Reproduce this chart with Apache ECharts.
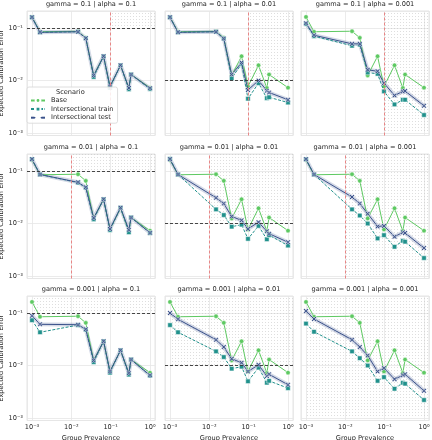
<!DOCTYPE html>
<html><head><meta charset="utf-8">
<script src="https://cdn.jsdelivr.net/npm/echarts@6/dist/echarts.min.js"></script>
<style>html,body{margin:0;padding:0;background:#fff}#c{width:432px;height:440px}</style>
</head><body><div id="c"></div>
<script>
// ---------- data ----------
const prevalence = [0.001, 0.0016, 0.0148, 0.0233, 0.037, 0.066, 0.096, 0.178, 0.29, 0.33, 1.0];
const gammas = [0.1, 0.01, 0.001];   // rows
const alphas = [0.1, 0.01, 0.001];   // columns
const seriesNames = ['Base', 'Intersectional train', 'Intersectional test'];
const tickLabels = {'-3': '10⁻³', '-2': '10⁻²', '-1': '10⁻¹', '0': '10⁰'};

const baseECE = [0.163, 0.085, 0.087, 0.065, 0.0125, 0.029, 0.0077, 0.0195, 0.0072, 0.013, 0.0073];

const testG1A1  = [0.16, 0.083, 0.085, 0.064, 0.0125, 0.029, 0.0077, 0.0195, 0.0072, 0.013, 0.0071];
const trainG1A1 = [0.16, 0.083, 0.085, 0.064, 0.0117, 0.029, 0.0073, 0.0195, 0.0068, 0.013, 0.0069];
const testG1A2  = [0.16, 0.083, 0.085, 0.063, 0.013, 0.022, 0.0066, 0.010, 0.0064, 0.0059, 0.0043];
const trainG1A2 = [0.16, 0.083, 0.085, 0.063, 0.011, 0.021, 0.0045, 0.0089, 0.0046, 0.0048, 0.0038];
const testG1A3  = [0.123, 0.073, 0.05, 0.05, 0.016, 0.015, 0.0089, 0.0052, 0.0062, 0.0063, 0.0033];
const trainG1A3 = [0.12, 0.07, 0.046, 0.048, 0.0142, 0.0134, 0.0062, 0.0035, 0.0043, 0.0043, 0.0022];

const testG2A1  = [0.168, 0.086, 0.061, 0.049, 0.0128, 0.029, 0.0079, 0.02, 0.0076, 0.013, 0.0067];
const trainG2A1 = [0.168, 0.086, 0.06, 0.048, 0.012, 0.029, 0.0075, 0.02, 0.0068, 0.013, 0.0066];
const testG2A2  = [0.168, 0.086, 0.031, 0.024, 0.0136, 0.0115, 0.0079, 0.0106, 0.0071, 0.0064, 0.0044];
const trainG2A2 = [0.17, 0.086, 0.0186, 0.0145, 0.0087, 0.0095, 0.0051, 0.009, 0.005, 0.006, 0.0038];
const testG2A3  = [0.168, 0.086, 0.032, 0.024, 0.0154, 0.0088, 0.009, 0.0056, 0.0068, 0.0066, 0.0034];
const trainG2A3 = [0.168, 0.086, 0.0186, 0.0142, 0.010, 0.0052, 0.006, 0.0036, 0.0047, 0.0045, 0.0022];

const testG3A1  = [0.089, 0.061, 0.06, 0.049, 0.0125, 0.029, 0.0077, 0.0195, 0.0071, 0.013, 0.0065];
const trainG3A1 = [0.073, 0.043, 0.059, 0.048, 0.0116, 0.029, 0.0073, 0.0195, 0.0067, 0.013, 0.0064];
const testG3A2  = [0.10, 0.076, 0.031, 0.0225, 0.0134, 0.0113, 0.0077, 0.0103, 0.0063, 0.0068, 0.0043];
const trainG3A2 = [0.059, 0.043, 0.0186, 0.0145, 0.0087, 0.0095, 0.005, 0.0091, 0.0047, 0.0051, 0.0037];
const testG3A3  = [0.11, 0.077, 0.031, 0.0225, 0.0155, 0.0077, 0.0089, 0.0055, 0.0065, 0.0068, 0.0033];
const trainG3A3 = [0.063, 0.044, 0.0186, 0.0138, 0.010, 0.0051, 0.006, 0.0036, 0.0047, 0.0045, 0.0022];

const testSets  = [[testG1A1, testG1A2, testG1A3], [testG2A1, testG2A2, testG2A3], [testG3A1, testG3A2, testG3A3]];
const trainSets = [[trainG1A1, trainG1A2, trainG1A3], [trainG2A1, trainG2A2, trainG2A3], [trainG3A1, trainG3A2, trainG3A3]];

// ---------- layout / style ----------
const FONT = 'DejaVu Sans';
const TXT = '#262626';
const FS = 6.6;
const colLeft = [27, 165, 301];
const colWidth = 128;
const rowTop = [11, 154, 296];
const rowHeight = 124.5;
const xMin = Math.pow(10, -3.127), xMax = Math.pow(10, 0.127);
const yMin = Math.pow(10, -3.048), yMax = Math.pow(10, -0.675);
const cBase = '#5ec962', cTrain = '#21918c', cTest = '#3b528b';
const xSymbol = 'path://M0,2 L2,0 L5,3 L8,0 L10,2 L7,5 L10,8 L8,10 L5,7 L2,10 L0,8 L3,5 Z';

// hatch pattern (dots)
const pat = document.createElement('canvas');
pat.width = 3; pat.height = 3;
const pctx = pat.getContext('2d');
pctx.fillStyle = 'rgba(190,190,190,0.5)';
pctx.fillRect(1, 1, 1, 1);

function pairs(arr) { return prevalence.map((x, i) => [x, arr[i]]); }
function fmt(v) {
  const e = Math.log10(v);
  const r = Math.round(e);
  if (Math.abs(e - r) > 0.01) return '';
  return tickLabels[String(r)] || '';
}

const grids = [], xAxes = [], yAxes = [], series = [], titles = [];
let gi = 0;
for (let r = 0; r < 3; r++) {
  for (let c = 0; c < 3; c++) {
    const gamma = gammas[r], alpha = alphas[c];
    grids.push({left: colLeft[c], top: rowTop[r], width: colWidth, height: rowHeight,
      show: true, borderColor: '#dedede', borderWidth: 0.8, backgroundColor: 'transparent',
      containLabel: false, outerBoundsMode: 'none'});
    const bottom = r === 2, left = c === 0;
    xAxes.push({type: 'log', logBase: 10, gridIndex: gi, min: xMin, max: xMax,
      axisLine: {show: false}, axisTick: {show: false},
      splitLine: {show: true, lineStyle: {color: '#e6e6e6', width: 0.8}},
      axisLabel: {show: bottom, formatter: fmt, fontFamily: FONT, fontSize: FS, color: TXT, margin: 3},
      name: bottom ? 'Group Prevalence' : '', nameLocation: 'middle', nameGap: 14,
      nameTextStyle: {fontFamily: FONT, fontSize: FS, color: TXT}});
    yAxes.push({type: 'log', logBase: 10, gridIndex: gi, min: yMin, max: yMax,
      axisLine: {show: false}, axisTick: {show: false},
      splitLine: {show: true, lineStyle: {color: '#e6e6e6', width: 0.8}},
      axisLabel: {show: left, formatter: fmt, fontFamily: FONT, fontSize: FS, color: TXT, margin: 4},
      name: left ? 'Expected Calibration Error' : '', nameLocation: 'middle', nameGap: 17,
      nameTextStyle: {fontFamily: FONT, fontSize: FS, color: TXT}});
    titles.push({text: 'gamma = ' + gamma + ' | alpha = ' + alpha,
      left: colLeft[c] + colWidth / 2, top: rowTop[r] - 10, textAlign: 'center',
      textStyle: {fontFamily: FONT, fontSize: FS, color: TXT, fontWeight: 'normal'},
      padding: 0});
    // CI band look for the test series
    series.push({type: 'line', name: 'band', xAxisIndex: gi, yAxisIndex: gi, data: pairs(testSets[r][c]),
      symbol: 'none', silent: true, z: 1,
      lineStyle: {width: 4, color: 'rgba(59,82,139,0.22)'}});
    series.push({type: 'line', name: 'Base', xAxisIndex: gi, yAxisIndex: gi, data: pairs(baseECE),
      symbol: 'circle', symbolSize: 4.5, z: 2,
      lineStyle: {width: 1, color: cBase}, itemStyle: {color: cBase, borderColor: '#fff', borderWidth: 0.5},
      markArea: {silent: true, itemStyle: {color: {image: pat, repeat: 'repeat'}},
        data: [[{xAxis: gamma, yAxis: alpha}, {xAxis: xMax, yAxis: yMax}]]},
      markLine: {silent: true, symbol: ['none', 'none'], label: {show: false},
        data: [
          {xAxis: gamma, lineStyle: {color: '#e87a7a', width: 0.9, type: [3, 2]}},
          {yAxis: alpha, lineStyle: {color: '#333', width: 0.9, type: [3, 2]}}
        ]}});
    series.push({type: 'line', name: 'Intersectional train', xAxisIndex: gi, yAxisIndex: gi, data: pairs(trainSets[r][c]),
      symbol: 'rect', symbolSize: 4.5, z: 3,
      lineStyle: {width: 1, color: cTrain, type: [3, 1.5]}, itemStyle: {color: cTrain, borderColor: '#fff', borderWidth: 0.5}});
    series.push({type: 'line', name: 'Intersectional test', xAxisIndex: gi, yAxisIndex: gi, data: pairs(testSets[r][c]),
      symbol: xSymbol, symbolSize: 5, z: 4,
      lineStyle: {width: 1, color: cTest}, itemStyle: {color: cTest, borderColor: '#fff', borderWidth: 0.5}});
    gi++;
  }
}

const chart = echarts.init(document.getElementById('c'), null, {renderer: 'canvas'});
chart.setOption({
  animation: false,
  backgroundColor: '#fff',
  title: titles,
  grid: grids, xAxis: xAxes, yAxis: yAxes, series: series,
  legend: {data: seriesNames, orient: 'vertical', left: 27, top: 87,
    padding: [10, 4, 2, 3], itemGap: 1.6, itemWidth: 14, itemHeight: 6,
    backgroundColor: 'rgba(255,255,255,0.85)', borderColor: '#d6d6d6', borderWidth: 0.8, borderRadius: 2,
    textStyle: {fontFamily: FONT, fontSize: FS, color: TXT, padding: [0, 0, 0, 1]}, selectedMode: false, z: 20},
  graphic: [{type: 'text', left: 56, top: 88.5, z: 30,
    style: {text: 'Scenario', fontFamily: FONT, fontSize: FS, fill: TXT}}]
});
</script></body></html>
